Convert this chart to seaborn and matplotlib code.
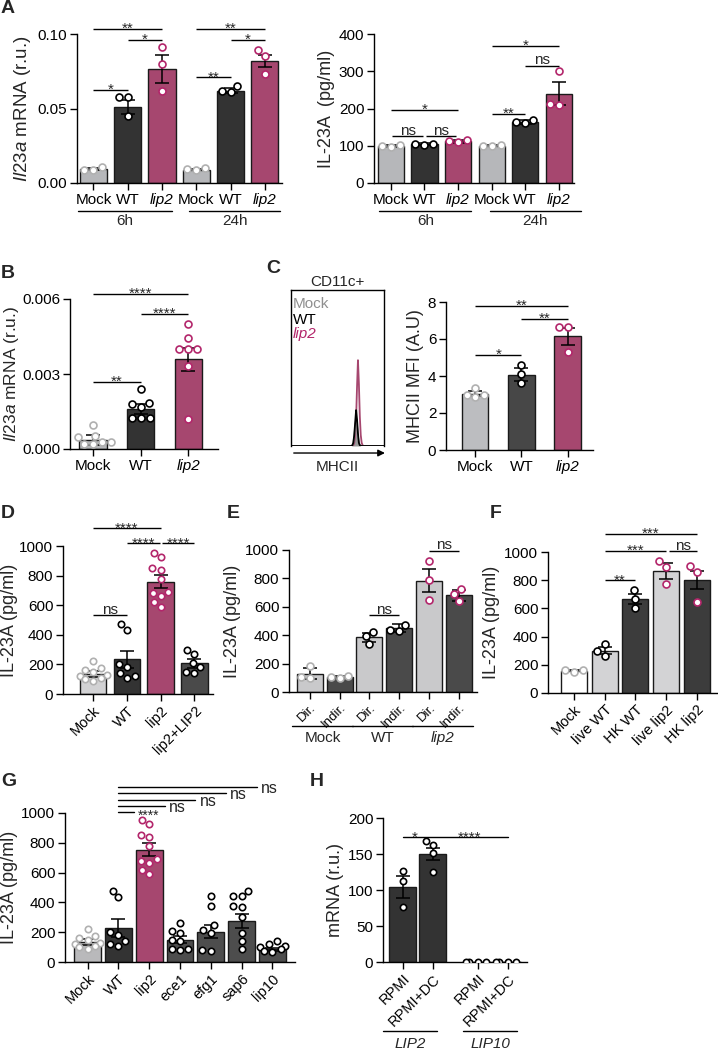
import numpy as np
import pandas as pd
import matplotlib
matplotlib.use('Agg')
import matplotlib.pyplot as plt
import seaborn as sns

sns.set_style('ticks')
plt.rcParams['font.family'] = ['Liberation Sans', 'DejaVu Sans']
plt.rcParams['mathtext.fontset'] = 'custom'
plt.rcParams['mathtext.rm'] = 'Liberation Sans'
plt.rcParams['mathtext.it'] = 'Liberation Sans:italic'
plt.rcParams['axes.linewidth'] = 1.0
plt.rcParams['axes.edgecolor'] = 'black'

##############################################################################
# colours
##############################################################################
GREY = '#b6b7ba'
LIGHT = '#d2d2d4'
DARK = '#333333'
DARK2 = '#4a4a4a'
MAG = '#a6476f'
MAG_PT = '#b3266b'
PT_GREY = '#b0b0b0'

##############################################################################
# data
##############################################################################
# A, left: Il23a mRNA
a1_ids = ['Mock 6h', 'WT 6h', 'lip2 6h', 'Mock 24h', 'WT 24h', 'lip2 24h']
a1_mean = [0.0095, 0.051, 0.0765, 0.009, 0.062, 0.082]
a1_sem = [0.0008, 0.005, 0.0095, 0.0006, 0.0015, 0.004]
a1_pts = [[0.011, 0.009, 0.0085], [0.058, 0.058, 0.045], [0.091, 0.080, 0.062],
          [0.010, 0.0095, 0.0085], [0.065, 0.061, 0.062], [0.089, 0.085, 0.073]]
# A, right: IL-23A
a2_ids = a1_ids
a2_mean = [100, 104, 112, 100, 164, 240]
a2_sem = [3, 3, 4, 2, 5, 30]
a2_pts = [[103, 97, 100], [105, 102, 106], [115, 110, 112],
          [101, 99, 100], [170, 160, 163], [300, 212, 210]]
a_ticklabels = ['Mock', 'WT', 'lip2', 'Mock', 'WT', 'lip2']
a_groups = ['6h', '24h']

# B
b_ids = ['Mock', 'WT', 'lip2']
b_mean = [0.00036, 0.0016, 0.0036]
b_sem = [0.0002, 0.0002, 0.00046]
b_pts = [[0.00096, 0.00053, 0.00048, 0.00030, 0.00022, 0.00020, 0.00028],
         [0.0024, 0.00186, 0.0018, 0.0017, 0.00123, 0.00123, 0.00123],
         [0.0050, 0.00446, 0.0040, 0.0040, 0.0040, 0.00334, 0.00119]]

# C, histogram (MHCII, % of max)
hist_x = [0.0, 0.64, 0.65, 0.66, 0.67, 0.68, 0.69, 0.70, 0.71, 0.72, 0.73, 0.74, 0.75, 0.76, 0.77, 0.78, 1.0]
hist_mock = [0, 0, 0, 0.5, 2, 6, 12, 18, 13, 6, 2, 0.5, 0, 0, 0, 0, 0]
hist_wt = [0, 0, 0, 0.5, 2, 7, 15, 23, 17, 8, 2, 0.5, 0, 0, 0, 0, 0]
hist_lip2 = [0, 0, 0, 0, 0.5, 2, 7, 18, 38, 55, 40, 19, 7, 2, 0.5, 0, 0]
# C, bars
c_ids = ['Mock', 'WT', 'lip2']
c_mean = [3.05, 4.08, 6.14]
c_sem = [0.15, 0.35, 0.47]
c_pts = [[3.35, 2.85, 3.0, 3.0], [4.6, 4.1, 3.6], [6.65, 6.65, 5.3]]

# D
d_ids = ['Mock', 'WT', 'lip2', 'lip2+LIP2']
d_mean = [135, 234, 759, 207]
d_sem = [20, 58, 45, 28]
d_pts = [[220, 175, 160, 150, 130, 120, 110, 100, 90],
         [475, 435, 200, 180, 140, 120, 110],
         [955, 925, 850, 840, 780, 690, 680, 665, 590, 620],
         [295, 270, 210, 180, 150, 140]]

# E
e_ids = ['Mock Dir.', 'Mock Indir.', 'WT Dir.', 'WT Indir.', 'lip2 Dir.', 'lip2 Indir.']
e_mean = [129, 105, 386, 450, 785, 681]
e_sem = [38, 8, 32, 28, 82, 40]
e_pts = [[185, 105, 100], [115, 108, 100], [425, 395, 340],
         [475, 440, 430], [925, 790, 650], [725, 690, 640]]
e_ticklabels = ['Dir.', 'Indir.'] * 3
e_groups = ['Mock', 'WT', 'lip2']

# F
f_ids = ['Mock', 'live WT', 'HK WT', 'live lip2', 'HK lip2']
f_mean = [158, 301, 666, 866, 800]
f_sem = [5, 25, 35, 55, 65]
f_pts = [[165, 160, 150], [345, 300, 265], [730, 670, 600],
         [935, 895, 770], [900, 860, 645]]

# G
g_ids = ['Mock', 'WT', 'lip2', 'ece1', 'efg1', 'sap6', 'lip10']
g_mean = [132, 230, 754, 150, 204, 273, 87]
g_sem = [20, 60, 45, 25, 45, 48, 10]
g_pts = d_pts[:3] + [[260, 205, 195, 150, 140, 90, 80, 85],
                     [440, 375, 245, 215, 195, 78, 72],
                     [475, 445, 440, 375, 370, 305, 195, 140, 85],
                     [140, 120, 110, 100, 85, 75, 70]]

# H
h_ids = ['LIP2 RPMI', 'LIP2 RPMI+DC', 'LIP10 RPMI', 'LIP10 RPMI+DC']
h_pos = [0, 1, 2.5, 3.5]
h_mean = [104, 150, 0, 0]
h_sem = [15, 9, 0, 0]
h_pts = [[127, 112, 76], [168, 162, 151, 125], [0, 0, 0, 0], [0, 0, 0, 0]]
h_ticklabels = ['RPMI', 'RPMI+DC', 'RPMI', 'RPMI+DC']
h_groups = ['LIP2', 'LIP10']

##############################################################################
# helpers
##############################################################################
W, H = 718, 1050
fig = plt.figure(figsize=(W / 100, H / 100), dpi=100)


def make_ax(x0, y0, x1, y1):
    return fig.add_axes([x0 / W, 1 - y1 / H, (x1 - x0) / W, (y1 - y0) / H])


def bar_panel(ax, ids, mean, sem, pts, fills, pcols, width, xpos=None, psize=5):
    native = xpos is not None
    xs = list(xpos) if native else list(ids)
    df = pd.DataFrame({'g': xs, 'm': mean})
    if native:
        sns.barplot(data=df, x='g', y='m', native_scale=True, color=fills[0], width=width,
                    errorbar=None, edgecolor='#1a1a1a', linewidth=1.0, saturation=1, ax=ax)
        loc = np.array(xpos, dtype=float)
    else:
        sns.barplot(data=df, x='g', y='m', hue='g', order=ids, hue_order=ids,
                    palette=dict(zip(ids, fills)), width=width, errorbar=None,
                    edgecolor='#1a1a1a', linewidth=1.0, saturation=1, legend=False, ax=ax)
        loc = np.arange(len(ids))
    m = np.array(mean, dtype=float)
    s = np.array(sem, dtype=float)
    keep = s > 0
    ax.errorbar(loc[keep], m[keep], yerr=s[keep], fmt='none', ecolor='k',
                elinewidth=1.1, capsize=5, capthick=1.1, zorder=5)
    for k, (vals, pc) in enumerate(zip(pts, pcols)):
        sub = pd.DataFrame({'g': [xs[k]] * len(vals), 'v': vals})
        if native:
            sns.swarmplot(data=sub, x='g', y='v', native_scale=True, color='white',
                          edgecolor=pc, linewidth=1.2, size=psize, warn_thresh=1, ax=ax)
        else:
            sns.swarmplot(data=sub, x='g', y='v', order=ids, color='white',
                          edgecolor=pc, linewidth=1.2, size=psize, warn_thresh=1, ax=ax)
    for c in ax.collections:
        c.set_zorder(6)
    ax.set_xlabel('')


def finish(ax, xlim, ylim, yticks, yfmt, xticks, xlabels, ylabel, rot=0, italic=(), xfs=11,
           lpad=3, yfs=13):
    ax.set_xlim(*xlim)
    ax.set_ylim(*ylim)
    ax.set_yticks(yticks)
    ax.set_yticklabels([yfmt.format(v) for v in yticks], fontsize=11)
    ax.set_xticks(xticks)
    if rot:
        ax.set_xticklabels(xlabels, rotation=rot, ha='right', rotation_mode='anchor', fontsize=xfs)
    else:
        ax.set_xticklabels(xlabels, fontsize=xfs)
    for lbl in ax.get_xticklabels():
        if lbl.get_text() in italic:
            lbl.set_style('italic')
    sns.despine(ax=ax)
    ax.tick_params(axis='both', length=5, width=1.0, pad=2, colors='k')
    ax.set_ylabel(ylabel, fontsize=yfs, labelpad=lpad)


def sig(ax, x1, x2, y, txt, fs=11):
    ax.plot([x1, x2], [y, y], color='k', lw=1.0, clip_on=False, solid_capstyle='butt')
    off = -3 if '*' in txt else 1
    ax.annotate(txt, xy=((x1 + x2) / 2, y), xytext=(0, off), textcoords='offset points',
                ha='center', va='baseline', fontsize=fs, annotation_clip=False)


def group_line(ax, x1, x2, dline, dtext, txt, italic=False):
    tr = ax.get_xaxis_transform()
    h = ax.get_position().height * H
    ax.plot([x1, x2], [-dline / h] * 2, transform=tr, color='k', lw=1.0, clip_on=False)
    ax.text((x1 + x2) / 2, -dtext / h, txt, transform=tr, ha='center', va='center',
            fontsize=11, style='italic' if italic else 'normal')


def letter(x, y, s):
    fig.text(x / W, 1 - y / H, s, fontsize=14, fontweight='bold', ha='left', va='top')


IL23 = 'IL-23A (pg/ml)'
MRNA = r'$\mathit{Il23a}$ mRNA (r.u.)'

##############################################################################
# A
##############################################################################
letter(1, 0, 'A')
ax = make_ax(77, 34, 282, 183)
bar_panel(ax, a1_ids, a1_mean, a1_sem, a1_pts, [GREY, DARK, MAG] * 2,
          [PT_GREY, 'k', MAG_PT] * 2, 0.79)
finish(ax, (-0.48, 5.5), (0, 0.10), [0, 0.05, 0.10], '{:.2f}', range(6), a_ticklabels,
       MRNA, italic=('lip2',), yfs=13.5)
for i, j, y, t in [(0, 2, 0.1035, '**'), (1, 2, 0.096, '*'), (0, 1, 0.0625, '*'),
                   (3, 5, 0.1035, '**'), (4, 5, 0.096, '*'), (3, 4, 0.071, '**')]:
    sig(ax, i, j, y, t)
group_line(ax, -0.45, 2.3, 28, 38, a_groups[0])
group_line(ax, 2.8, 5.45, 28, 38, a_groups[1])

ax = make_ax(374, 34, 574, 183)
bar_panel(ax, a2_ids, a2_mean, a2_sem, a2_pts, [GREY, DARK, MAG] * 2,
          [PT_GREY, 'k', MAG_PT] * 2, 0.78)
finish(ax, (-0.5, 5.45), (0, 400), [0, 100, 200, 300, 400], '{:d}', range(6), a_ticklabels,
       'IL-23A  (pg/ml)', italic=('lip2',))
for i, j, y, t in [(0, 2, 196, '*'), (0.05, 0.95, 125, 'ns'), (1.05, 1.95, 125, 'ns'),
                   (3, 5, 368, '*'), (4, 5, 315, 'ns'), (3, 4, 185, '**')]:
    sig(ax, i, j, y, t)
group_line(ax, -0.35, 2.4, 28, 38, a_groups[0])
group_line(ax, 2.95, 5.65, 28, 38, a_groups[1])

##############################################################################
# B
##############################################################################
letter(1, 265, 'B')
ax = make_ax(70, 299, 218, 449)
bar_panel(ax, b_ids, b_mean, b_sem, b_pts, [GREY, DARK, MAG], [PT_GREY, 'k', MAG_PT], 0.57)
finish(ax, (-0.48, 2.62), (0, 0.006), [0, 0.003, 0.006], '{:.3f}', range(3), b_ids,
       MRNA, italic=('lip2',), lpad=1, yfs=12.5)
for i, j, y, t in [(0, 2, 0.0062, '****'), (1, 2, 0.0054, '****'), (0, 1, 0.0027, '**')]:
    sig(ax, i, j, y, t)

##############################################################################
# C
##############################################################################
letter(266, 260, 'C')
ax = make_ax(291, 290, 384, 446)
ax.plot(hist_x, hist_lip2, color=MAG, lw=1.3)
ax.fill_between(hist_x, hist_mock, color='#9a9a9a', lw=0)
ax.plot(hist_x, hist_mock, color='#9a9a9a', lw=1.3)
ax.plot(hist_x, hist_wt, color='k', lw=1.3)
ax.set_xlim(0, 1)
ax.set_ylim(0, 100)
ax.set_xticks([])
ax.set_yticks([])
ax.spines['bottom'].set_visible(False)
for s in ['left', 'top', 'right']:
    ax.spines[s].set_linewidth(1.0)
ax.text(0.02, 0.885, 'Mock', color='#8f8f8f', fontsize=11, transform=ax.transAxes, va='baseline')
ax.text(0.02, 0.78, 'WT', color='k', fontsize=11, transform=ax.transAxes, va='baseline')
ax.text(0.02, 0.69, 'lip2', color=MAG_PT, fontsize=11, style='italic', transform=ax.transAxes,
        va='baseline')
ax.text(0.5, 1.05, 'CD11c+', fontsize=11, transform=ax.transAxes, ha='center', va='center')
ax.text(0.5, -0.135, 'MHCII', fontsize=11, transform=ax.transAxes, ha='center', va='center')
ax.annotate('', xy=(1.04, -0.045), xytext=(0, -0.045), xycoords='axes fraction',
            arrowprops=dict(arrowstyle='-|>', color='k', lw=1.0, mutation_scale=10))

ax = make_ax(446, 302, 593, 450)
bar_panel(ax, c_ids, c_mean, c_sem, c_pts, ['#bcbdc0', '#474747', MAG], [PT_GREY, 'k', MAG_PT], 0.57)
finish(ax, (-0.63, 2.55), (0, 8), [0, 2, 4, 6, 8], '{:d}', range(3), c_ids,
       'MHCII MFI (A.U)', italic=('lip2',))
for i, j, y, t in [(0, 2, 7.8, '**'), (1, 2, 7.08, '**'), (0, 1, 5.13, '*')]:
    sig(ax, i, j, y, t)

##############################################################################
# D
##############################################################################
letter(1, 505, 'D')
ax = make_ax(63, 546, 213, 694)
bar_panel(ax, d_ids, d_mean, d_sem, d_pts, [LIGHT, DARK, MAG, DARK2],
          [PT_GREY, 'k', MAG_PT, 'k'], 0.78, psize=4.6)
finish(ax, (-0.89, 3.55), (0, 1000), [0, 200, 400, 600, 800, 1000], '{:d}', range(4), d_ids,
       IL23, rot=45, xfs=10.5, lpad=1)
for i, j, y, t in [(0, 2, 1119, '****'), (1, 1.97, 1018, '****'), (2.03, 3, 1018, '****'),
                   (0, 1, 534, 'ns')]:
    sig(ax, i, j, y, t)

##############################################################################
# E
##############################################################################
letter(227, 505, 'E')
ax = make_ax(289, 550, 477, 692)
bar_panel(ax, e_ids, e_mean, e_sem, e_pts, ['#c9c9cb', DARK2] * 3,
          [PT_GREY, PT_GREY, 'k', 'k', MAG_PT, MAG_PT], 0.87)
finish(ax, (-0.69, 5.6), (0, 1000), [0, 200, 400, 600, 800, 1000], '{:d}', range(6),
       e_ticklabels, IL23, rot=45, xfs=9.5)
for i, j, y, t in [(2, 3, 543, 'ns'), (4, 5, 995, 'ns')]:
    sig(ax, i, j, y, t)
for k, name in enumerate(e_groups):
    group_line(ax, 2 * k - 0.58, 2 * k + 1.45, 34, 46, name, italic=(name == 'lip2'))

##############################################################################
# F
##############################################################################
letter(490, 505, 'F')
ax = make_ax(548, 552, 718, 693)
bar_panel(ax, f_ids, f_mean, f_sem, f_pts, ['white', '#d3d3d5', '#3c3c3c', '#d3d3d5', '#3c3c3c'],
          [PT_GREY, 'k', 'k', MAG_PT, MAG_PT], 0.85)
finish(ax, (-0.85, 4.7), (0, 1000), [0, 200, 400, 600, 800, 1000], '{:d}', range(5), f_ids,
       IL23, rot=45, xfs=10.5)
for i, j, y, t in [(1, 4, 1129, '***'), (1, 3, 1007, '***'), (3.1, 4, 1007, 'ns'),
                   (1, 2, 800, '**')]:
    sig(ax, i, j, y, t)

##############################################################################
# G
##############################################################################
letter(1, 773, 'G')
ax = make_ax(65, 813, 295, 962)
bar_panel(ax, g_ids, g_mean, g_sem, g_pts, ['#b9b9bb', DARK, MAG] + ['#4d4d4d'] * 4,
          [PT_GREY, 'k', MAG_PT] + ['k'] * 4, 0.87, psize=4.6)
finish(ax, (-0.73, 6.73), (0, 1000), [0, 200, 400, 600, 800, 1000], '{:d}', range(7), g_ids,
       IL23, rot=45, xfs=10.5, lpad=2)
for j, y, t in [(2, 1007, '****'), (3, 1049, 'ns'), (4, 1089, 'ns'), (5, 1134, 'ns'),
                (6, 1174, 'ns')]:
    ax.plot([1, j - 0.5], [y, y], color='k', lw=1.0, clip_on=False)
    ax.annotate(t, xy=(j - 0.5, y), xytext=(3, -3 if '*' in t else -1), textcoords='offset points',
                ha='left', va='center', fontsize=10 if '*' in t else 11.5, annotation_clip=False)

##############################################################################
# H
##############################################################################
letter(310, 773, 'H')
ax = make_ax(383, 818, 527, 962)
bar_panel(ax, h_ids, h_mean, h_sem, h_pts, [DARK], ['k'] * 4, 0.9, xpos=h_pos, psize=4.5)
finish(ax, (-0.65, 4.15), (0, 200), [0, 50, 100, 150, 200], '{:d}', h_pos, h_ticklabels,
       'mRNA (r.u.)', rot=45, xfs=10.5)
ax.plot([h_pos[0], h_pos[3]], [173, 173], color='k', lw=1.0, clip_on=False)
for xm, t in [((h_pos[0] + h_pos[1]) / 2 - 0.08, '*'), ((h_pos[1] + h_pos[3]) / 2, '****')]:
    ax.annotate(t, xy=(xm, 173), xytext=(0, -3), textcoords='offset points',
                ha='center', va='baseline', fontsize=11, annotation_clip=False)
group_line(ax, -0.65, 1.15, 69, 82, h_groups[0], italic=True)
group_line(ax, 2.02, 3.82, 69, 82, h_groups[1], italic=True)

fig.savefig('out.png', dpi=100)
